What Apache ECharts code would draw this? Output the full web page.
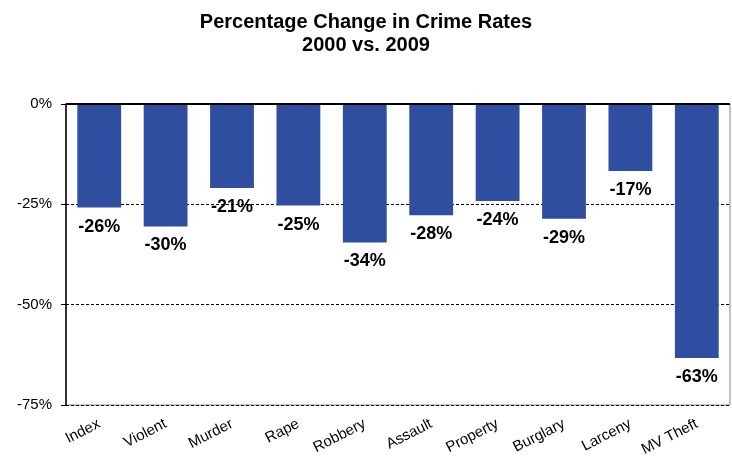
<!DOCTYPE html>
<html><head><meta charset="utf-8">
<script src="https://cdn.jsdelivr.net/npm/echarts@6/dist/echarts.min.js"></script>
<style>html,body{margin:0;padding:0;background:#fff}#c{width:732px;height:461px}</style>
</head><body><div id="c"></div>
<script>
const categories = ["Index","Violent","Murder","Rape","Robbery","Assault","Property","Burglary","Larceny","MV Theft"];
const values = [-25.8,-30.5,-20.9,-25.3,-34.5,-27.7,-24.2,-28.6,-16.7,-63.3];
const yTicks = [0,-25,-50,-75];
const F = "Arial, 'Liberation Sans', sans-serif";
const chart = echarts.init(document.getElementById('c'));
chart.setOption({
  animation:false,
  title:{text:"Percentage Change in Crime Rates\n2000 vs. 2009",left:'center',top:6,
    textStyle:{fontFamily:F,fontSize:20,fontWeight:'bold',color:'#000',lineHeight:23}},
  grid:{left:66,right:2,top:104,bottom:56,show:true,borderColor:'#888',borderWidth:1},
  xAxis:{type:'category',data:categories,position:'bottom',
    axisLine:{show:false},axisTick:{show:false},
    axisLabel:{rotate:27,fontFamily:F,fontSize:15,color:'#000',interval:0,margin:18}},
  yAxis:{type:'value',min:-75,max:0,interval:25,
    axisLine:{show:true,lineStyle:{color:'#000',width:1.5}},
    axisTick:{show:true,inside:false,length:5,lineStyle:{color:'#000'}},
    axisLabel:{fontFamily:F,fontSize:15,color:'#000',margin:14,formatter:v=>v+'%'},
    splitLine:{show:true,lineStyle:{type:[3,2],color:'#000',width:1}}},
  series:[{type:'bar',data:values,barWidth:'66%',
    itemStyle:{color:'#2F4EA0'},
    label:{show:true,position:'bottom',distance:10,fontFamily:F,fontSize:18,fontWeight:'bold',color:'#000',
      formatter:p=>Math.round(p.value)+'%'},
    markLine:{silent:true,symbol:'none',label:{show:false},
      lineStyle:{color:'#000',width:2,type:'solid'},data:[{yAxis:0}]}
  }]
});
</script></body></html>
